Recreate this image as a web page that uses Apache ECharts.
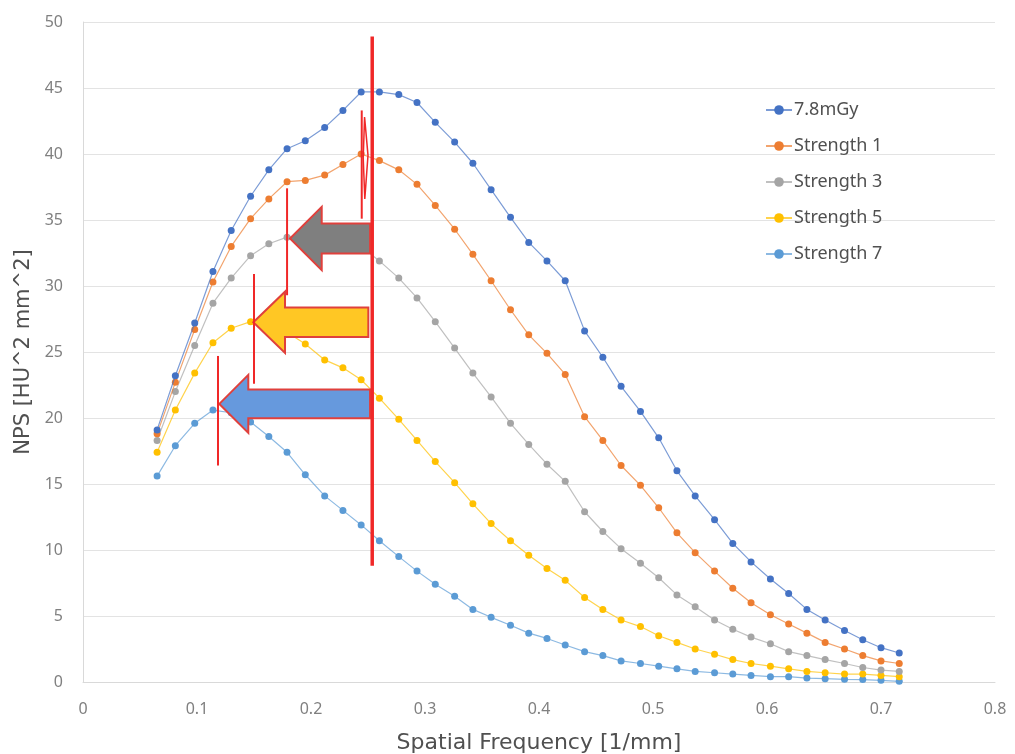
<!DOCTYPE html>
<html>
<head>
<meta charset="utf-8">
<script src="https://cdn.jsdelivr.net/npm/echarts@6/dist/echarts.min.js"></script>
<style>
  html, body { margin: 0; padding: 0; background: #fff; }
  #chart { width: 1015px; height: 754px; }
</style>
</head>
<body>
<div id="chart"></div>
<script>
// spatial frequency samples [1/mm]
const freq = [0.065, 0.081, 0.098, 0.114, 0.130, 0.147, 0.163, 0.179, 0.195, 0.212,
  0.228, 0.244, 0.260, 0.277, 0.293, 0.309, 0.326, 0.342, 0.358, 0.375,
  0.391, 0.407, 0.423, 0.440, 0.456, 0.472, 0.489, 0.505, 0.521, 0.537,
  0.554, 0.570, 0.586, 0.603, 0.619, 0.635, 0.651, 0.668, 0.684, 0.700, 0.716]

const seriesNames = ['7.8mGy', 'Strength 1', 'Strength 3', 'Strength 5', 'Strength 7']

const nps78 = [19.1, 23.2, 27.2, 31.1, 34.2, 36.8, 38.8, 40.4, 41.0, 42.0,
  43.3, 44.7, 44.7, 44.5, 43.9, 42.4, 40.9, 39.3, 37.3, 35.2,
  33.3, 31.9, 30.4, 26.6, 24.6, 22.4, 20.5, 18.5, 16.0, 14.1,
  12.3, 10.5, 9.1, 7.8, 6.7, 5.5, 4.7, 3.9, 3.2, 2.6, 2.2]
const npsS1 = [18.8, 22.7, 26.7, 30.3, 33.0, 35.1, 36.6, 37.9, 38.0, 38.4,
  39.2, 40.0, 39.5, 38.8, 37.7, 36.1, 34.3, 32.4, 30.4, 28.2,
  26.3, 24.9, 23.3, 20.1, 18.3, 16.4, 14.9, 13.2, 11.3, 9.8,
  8.4, 7.1, 6.0, 5.1, 4.4, 3.7, 3.0, 2.5, 2.0, 1.6, 1.4]
const npsS3 = [18.3, 22.0, 25.5, 28.7, 30.6, 32.3, 33.2, 33.7, 33.9, 33.9,
  33.6, 33.0, 31.9, 30.6, 29.1, 27.3, 25.3, 23.4, 21.6, 19.6,
  18.0, 16.5, 15.2, 12.9, 11.4, 10.1, 9.0, 7.9, 6.6, 5.7,
  4.7, 4.0, 3.4, 2.9, 2.3, 2.0, 1.7, 1.4, 1.1, 0.9, 0.8]
const npsS5 = [17.4, 20.6, 23.4, 25.7, 26.8, 27.3, 27.1, 26.5, 25.6, 24.4,
  23.8, 22.9, 21.5, 19.9, 18.3, 16.7, 15.1, 13.5, 12.0, 10.7,
  9.6, 8.6, 7.7, 6.4, 5.5, 4.7, 4.2, 3.5, 3.0, 2.5,
  2.1, 1.7, 1.4, 1.2, 1.0, 0.8, 0.7, 0.6, 0.6, 0.5, 0.4]
const npsS7 = [15.6, 17.9, 19.6, 20.6, 20.4, 19.7, 18.6, 17.4, 15.7, 14.1,
  13.0, 11.9, 10.7, 9.5, 8.4, 7.4, 6.5, 5.5, 4.9, 4.3,
  3.7, 3.3, 2.8, 2.3, 2.0, 1.6, 1.4, 1.2, 1.0, 0.8,
  0.7, 0.6, 0.5, 0.4, 0.4, 0.3, 0.25, 0.2, 0.18, 0.13, 0.05]

const seriesValues = [nps78, npsS1, npsS3, npsS5, npsS7]
const colors = ['#4472C4', '#ED7D31', '#A5A5A5', '#FFC000', '#5B9BD5']

// hand-drawn annotations, in data units
// peak line: [x, yTop, yBottom]
const peakLine = [0.2537, 48.9, 8.8]
// thin red markers: [x, yTop, yBottom]
const peakMarks = [
  [0.2445, 43.3, 35.1],
  [0.1790, 37.4, 29.3],
  [0.1500, 30.9, 22.6],
  [0.1184, 24.7, 16.4]
]
const scribble = [[0.2470, 42.8], [0.2500, 39.9], [0.2472, 36.6], [0.2458, 39.7], [0.2470, 42.8]]
// arrows: [tipX, headBaseX, tailX, centerY, headHalf, bodyHalf]
const arrows = [
  [0.1816, 0.2094, 0.2518, 33.6, 2.4, 1.13],
  [0.1494, 0.1772, 0.2503, 27.25, 2.32, 1.12],
  [0.1196, 0.1450, 0.2518, 21.07, 2.2, 1.09]
]
const arrowFills = ['#7F7F7F', '#FFC724', '#6699DD']

const chart = echarts.init(document.getElementById('chart'))

const lineSeries = seriesNames.map((name, i) => ({
  name,
  type: 'line',
  data: freq.map((f, j) => [f, seriesValues[i][j]]),
  symbol: 'circle',
  symbolSize: 7,
  showSymbol: true,
  itemStyle: { color: colors[i] },
  lineStyle: { color: colors[i], width: 1.2, opacity: 0.7 },
  emphasis: { disabled: true },
  z: 2 + (4 - i)
}))

const red = '#F02828'

const annotationSeries = [
  {
    type: 'custom',
    name: 'arrows',
    silent: true,
    z: 10,
    data: arrows.map((a, i) => a.concat(i)),
    renderItem: (params, api) => {
      const tip = api.value(0), base = api.value(1), tail = api.value(2)
      const cy = api.value(3), hh = api.value(4), bh = api.value(5)
      const pts = [
        [tip, cy], [base, cy + hh], [base, cy + bh], [tail, cy + bh],
        [tail, cy - bh], [base, cy - bh], [base, cy - hh]
      ].map(p => api.coord(p))
      return {
        type: 'polygon',
        shape: { points: pts },
        style: { fill: arrowFills[api.value(6)], stroke: '#E0403C', lineWidth: 2 }
      }
    }
  },
  {
    type: 'custom',
    name: 'marks',
    silent: true,
    z: 11,
    data: peakMarks,
    renderItem: (params, api) => {
      const p1 = api.coord([api.value(0), api.value(1)])
      const p2 = api.coord([api.value(0), api.value(2)])
      return {
        type: 'line',
        shape: { x1: p1[0], y1: p1[1], x2: p2[0], y2: p2[1] },
        style: { stroke: red, lineWidth: 2 }
      }
    }
  },
  {
    type: 'custom',
    name: 'scribble',
    silent: true,
    z: 11,
    data: [0],
    renderItem: (params, api) => ({
      type: 'polyline',
      shape: { points: scribble.map(p => api.coord(p)) },
      style: { stroke: red, lineWidth: 1.5, fill: null }
    })
  },
  {
    type: 'custom',
    name: 'peak',
    silent: true,
    z: 12,
    data: [peakLine],
    renderItem: (params, api) => {
      const p1 = api.coord([api.value(0), api.value(1)])
      const p2 = api.coord([api.value(0), api.value(2)])
      return {
        type: 'line',
        shape: { x1: p1[0], y1: p1[1], x2: p2[0], y2: p2[1] },
        style: { stroke: red, lineWidth: 3.5 }
      }
    }
  }
]

chart.setOption({
  animation: false,
  textStyle: { fontFamily: "'Noto Sans', sans-serif" },
  grid: { left: 83, right: 20, top: 22, bottom: 72, outerBoundsMode: 'none' },
  legend: {
    data: seriesNames,
    orient: 'vertical',
    left: 760,
    top: 95,
    itemWidth: 26,
    itemHeight: 12,
    itemGap: 16,
    textStyle: { fontSize: 18, color: '#505050', lineHeight: 20, padding: [0, 0, 0, -3] }
  },
  xAxis: {
    type: 'value',
    min: 0,
    max: 0.8,
    interval: 0.1,
    name: 'Spatial Frequency [1/mm]',
    nameLocation: 'middle',
    nameGap: 50,
    nameTextStyle: { fontFamily: "'DejaVu Sans', sans-serif", fontSize: 22, color: '#505050' },
    axisLine: { show: true, lineStyle: { color: '#D9D9D9' } },
    axisTick: { show: false },
    axisLabel: { color: '#808080', fontSize: 16, margin: 19 },
    splitLine: { show: false }
  },
  yAxis: {
    type: 'value',
    min: 0,
    max: 50,
    interval: 5,
    name: 'NPS [HU^2 mm^2]',
    nameLocation: 'middle',
    nameGap: 44,
    nameTextStyle: { fontFamily: "'DejaVu Sans', sans-serif", fontSize: 21, color: '#505050' },
    axisLine: { show: true, lineStyle: { color: '#D9D9D9' } },
    axisTick: { show: false },
    axisLabel: { color: '#808080', fontSize: 16, margin: 20 },
    splitLine: { show: true, lineStyle: { color: '#E3E3E3', width: 1 } }
  },
  series: lineSeries.concat(annotationSeries)
})
</script>
</body>
</html>
